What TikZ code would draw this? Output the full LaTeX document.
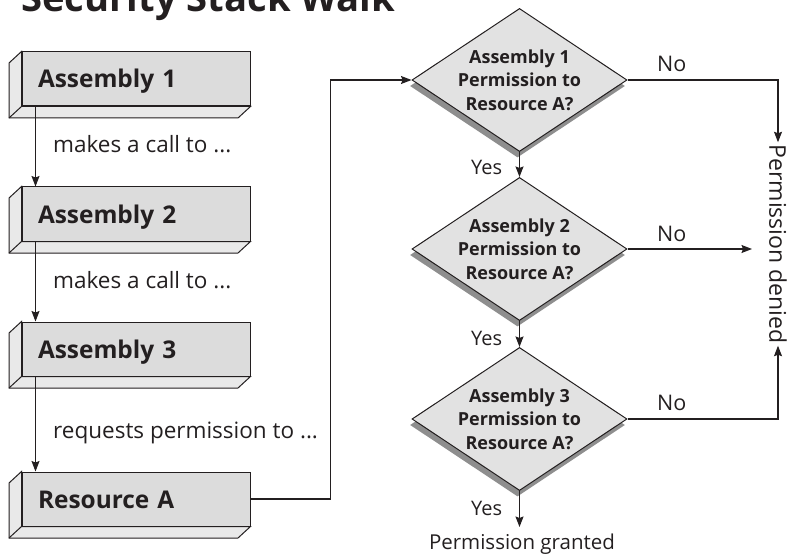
\documentclass[tikz,border=0pt]{standalone}
\usepackage{fontspec}
\setmainfont{Open Sans}
\usetikzlibrary{shapes.geometric,arrows.meta,calc,shadows}
\definecolor{ink}{HTML}{231F20}
\definecolor{frontgray}{HTML}{DCDCDC}
\definecolor{sidegray}{HTML}{E9E9E9}
\definecolor{diagray}{HTML}{E2E2E2}
\definecolor{shadowgray}{HTML}{8E8E8E}
\newcommand\slabsides[1]{%
  \filldraw[sidegray, draw=ink, line width=1pt, line join=miter]
    (#1.north west) -- ++(-12.5,11.5) -- ($(#1.south west)+(-12.5,11.5)$)
    -- ($(#1.south east)+(-12.5,11.5)$) -- (#1.south east) -- (#1.south west) -- cycle;
  \draw[ink, line width=1pt] (#1.south west) -- ++(-12.5,11.5);
}
\begin{document}
\begin{tikzpicture}[x=1pt,y=-1pt,
  every node/.style={text=ink},
  slab/.style={draw=ink, fill=frontgray, line width=1pt, minimum height=54pt,
    text width=196pt, inner xsep=16pt, inner ysep=0pt, align=left,
    text height=18pt, text depth=0pt, font=\bfseries\fontsize{24.4}{28}\selectfont},
  lab/.style={font=\fontsize{22.5}{26}\selectfont, inner sep=0pt},
  yeslab/.style={font=\fontsize{20}{24}\selectfont, inner sep=0pt},
  nolab/.style={font=\fontsize{21.5}{24}\selectfont, inner sep=0pt},
  decision/.style={shape=diamond, draw=ink, fill=diagray, line width=1pt,
    minimum width=215pt, minimum height=141pt, inner sep=0pt, aspect=1.5,
    align=center, font=\bfseries\fontsize{18}{23.5}\selectfont,
    drop shadow={fill=shadowgray, opacity=1, shadow xshift=-2pt, shadow yshift=-6pt}},
  conn/.style={draw=ink, line width=1.1pt, -{Stealth[length=10.5pt,width=8pt,inset=1.5pt]}}
]
\useasboundingbox (0,0) rectangle (787,556);

% title
\node[anchor=base west, inner sep=0pt, font=\bfseries\fontsize{38.2}{42}\selectfont] (title) at (21,12) {Security Stack Walk};

% left column boxes
\node[slab] (a1) at (136,79) {Assembly 1};
\node[slab] (a2) at (136,214) {Assembly 2};
\node[slab] (a3) at (136,349) {Assembly 3};
\node[slab] (res) at (136,499) {Resource A};
\slabsides{a1}
\slabsides{a2}
\slabsides{a3}
\slabsides{res}

\node[lab, anchor=base west] (m1) at (53,153) {makes a call to ...};
\node[lab, anchor=base west] (m2) at (53,288) {makes a call to ...};
\node[lab, anchor=base west] (m3) at (53,438) {requests permission to ...};

\draw[conn] ($(a1.south west)+(14,0)$) -- ($(a2.north west)+(14,0)$);
\draw[conn] ($(a2.south west)+(14,0)$) -- ($(a3.north west)+(14,0)$);
\draw[conn] ($(a3.south west)+(14,0)$) -- ($(res.north west)+(14,0)$);

% decisions
\node[decision] (d1) at (519.5,80) {Assembly 1\\Permission to\\Resource A?};
\node[decision] (d2) at (519.5,249) {Assembly 2\\Permission to\\Resource A?};
\node[decision] (d3) at (519.5,419) {Assembly 3\\Permission to\\Resource A?};

\draw[conn] (res.east) -- ++(80,0) |- (d1.west);

% yes branch
\node[yeslab, anchor=base west] (y1) at (471,175) {Yes};
\node[yeslab, anchor=base west] (y2) at (471,345) {Yes};
\node[yeslab, anchor=base west] (y3) at (471,515) {Yes};
\node[lab, anchor=base, font=\fontsize{20.5}{24}\selectfont] (granted) at (522,549) {Permission granted};
\draw[conn] (d1.south) -- (d2.north);
\draw[conn] (d2.south) -- (d3.north);
\draw[conn] (d3.south) -- (d3.south |- 0,527);

% no branch
\node[lab, rotate=-90, font=\fontsize{23}{26}\selectfont, inner sep=2pt] (denied) at (778,244) {Permission denied};
\coordinate (d2end) at (752,249);
\node[nolab, anchor=base west] (n1) at (657,72) {No};
\node[nolab, anchor=base west] (n2) at (657,241) {No};
\node[nolab, anchor=base west] (n3) at (657,410) {No};
\draw[conn] (d1.east) -| (denied.west);
\draw[conn] (d2.east) -- (d2end);
\draw[conn] (d3.east) -| (denied.east);
\end{tikzpicture}
\end{document}
